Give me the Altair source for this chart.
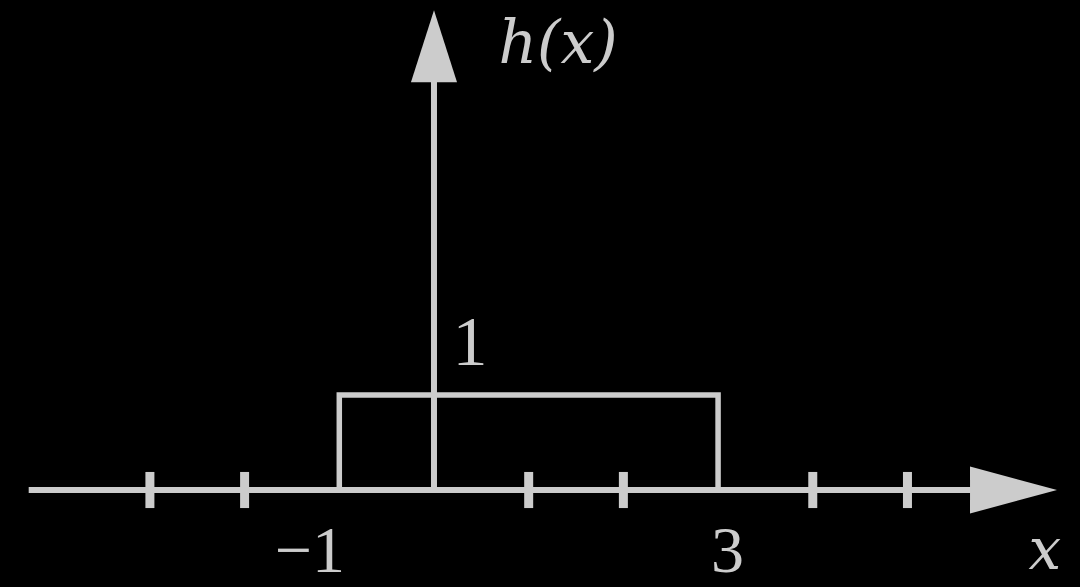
import altair as alt
import pandas as pd

INK = "#cccccc"

# step function h(x) = 1 on [-1, 3], drawn as an open box on the axis
rect_x = [-1, -1, 3, 3]
rect_y = [0, 1, 1, 0]

# small tick marks on the x axis (the ones not covered by the box or the y axis)
tick_x = [-3, -2, 1, 2, 4, 5]
TICK_HALF = 0.19

# axis extents
X_START, X_END = -4.28, 5.75
Y_END = 4.35

# arrowhead centres
x_head = (6.12, 0.0)
y_head = (0.0, 4.67)

# labels
num_text = ["1", "\u22121", "3"]
num_x = [0.38, -1.31, 3.10]
num_y = [1.316, -0.865, -0.865]
num_size = [70, 66, 66]

ital_text = ["h(x)", "x"]
ital_x = [1.31, 6.45]
ital_y = [4.495, -0.83]
ital_size = [60, 58]

xs = alt.Scale(domain=[-4.583, 6.822], nice=False, zero=False)
ys = alt.Scale(domain=[-1.021, 5.158], nice=False, zero=False)

def X(field="x"):
    return alt.X(f"{field}:Q", scale=xs, axis=None)

def Y(field="y"):
    return alt.Y(f"{field}:Q", scale=ys, axis=None)

axes_df = pd.DataFrame({
    "x": [X_START, 0.0], "y": [0.0, 0.0],
    "x2": [X_END, 0.0], "y2": [0.0, Y_END],
})
axes = alt.Chart(axes_df).mark_rule(color=INK, strokeWidth=6).encode(
    x=X(), y=Y(), x2="x2:Q", y2="y2:Q"
)

ticks_df = pd.DataFrame({"x": tick_x, "y": [-TICK_HALF] * len(tick_x),
                         "y2": [TICK_HALF] * len(tick_x)})
ticks = alt.Chart(ticks_df).mark_rule(color=INK, strokeWidth=9).encode(
    x=X(), y=Y(), y2="y2:Q"
)

rect_df = pd.DataFrame({"x": rect_x, "y": rect_y, "o": list(range(len(rect_x)))})
box = alt.Chart(rect_df).mark_line(color=INK, strokeWidth=5.5, strokeJoin="miter").encode(
    x=X(), y=Y(), order="o:O"
)

xh = alt.Chart(pd.DataFrame({"x": [x_head[0]], "y": [x_head[1]]})).mark_point(
    shape="M -1 -0.54 L 1 0 L -1 0.54 Z", size=87 ** 2, filled=True,
    color=INK, opacity=1, strokeWidth=0
).encode(x=X(), y=Y())

yh = alt.Chart(pd.DataFrame({"x": [y_head[0]], "y": [y_head[1]]})).mark_point(
    shape="M -0.64 1 L 0 -1 L 0.64 1 Z", size=72 ** 2, filled=True,
    color=INK, opacity=1, strokeWidth=0
).encode(x=X(), y=Y())

nums = alt.Chart(pd.DataFrame({"t": num_text, "x": num_x, "y": num_y,
                               "s": num_size})).mark_text(
    font="Liberation Serif", color=INK, align="center", baseline="alphabetic"
).encode(x=X(), y=Y(), text="t:N", size=alt.Size("s:Q", scale=None, legend=None))

itals = alt.Chart(pd.DataFrame({"t": ital_text, "x": ital_x, "y": ital_y,
                                "s": ital_size})).mark_text(
    font="DejaVu Serif", fontStyle="italic", color=INK, align="center",
    baseline="alphabetic"
).encode(x=X(), y=Y(), text="t:N", size=alt.Size("s:Q", scale=None, legend=None))

chart = alt.layer(axes, ticks, box, xh, yh, nums, itals).properties(
    width=1080, height=587, background="black", padding=0,
    autosize=alt.AutoSizeParams(type="none")
).configure_view(stroke=None)

chart.save("out.html", embed_options={"renderer": "svg", "actions": False})
